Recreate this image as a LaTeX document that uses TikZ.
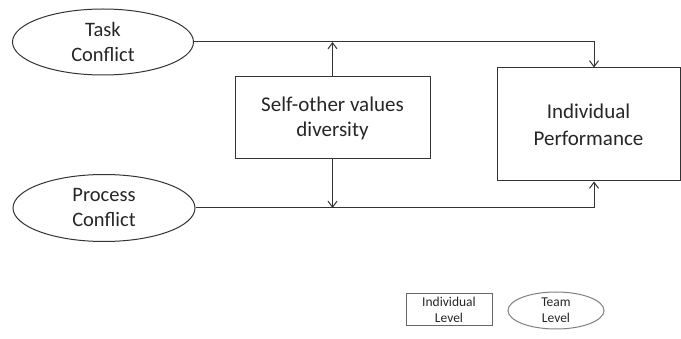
\documentclass[tikz,border=0pt]{standalone}
\usepackage{fontspec}
\setmainfont{Carlito}
\usetikzlibrary{shapes.geometric,arrows.meta}
\tikzset{
  team/.style={ellipse,draw,align=center,inner sep=0pt},
  indiv/.style={rectangle,draw,align=center,inner sep=0pt},
  link/.style={-{Straight Barb[length=6pt,width=9pt]}},
}
\begin{document}
\begin{tikzpicture}[x=1pt,y=-1pt,line width=1pt,draw=black!80,text=black!85]
  \useasboundingbox (0,0) rectangle (681,339);
  \node[team,minimum width=181,minimum height=66,font=\fontsize{20.5}{25}\selectfont] (task) at (103,42) {Task\\Conflict};
  \node[team,minimum width=182,minimum height=67,font=\fontsize{20.5}{25}\selectfont] (proc) at (104,208) {Process\\Conflict};
  \node[indiv,minimum width=195,minimum height=82,font=\fontsize{21}{25}\selectfont] (sov) at (332.5,118) {Self-other values\\diversity};
  \node[indiv,minimum width=183,minimum height=113,font=\fontsize{21}{27}\selectfont] (perf) at (588.5,124.5) {Individual\\Performance};
  % legend
  \node[indiv,draw=black!60,minimum width=86,minimum height=32,font=\fontsize{13.5}{16}\selectfont] (lind) at (449,310) {Individual\\Level};
  \node[team,draw=black!50,minimum width=96,minimum height=37,font=\fontsize{13.5}{16}\selectfont] (lteam) at (556,310.5) {Team\\Level};
  % connectors
  \draw[link] (task.east) -| ([xshift=5.5]perf.north);
  \draw[link] (proc.east) -| ([xshift=5.5]perf.south);
  \draw[link] (sov.north) -- (sov.north |- task.east);
  \draw[link] (sov.south) -- (sov.south |- proc.east);
\end{tikzpicture}
\end{document}
